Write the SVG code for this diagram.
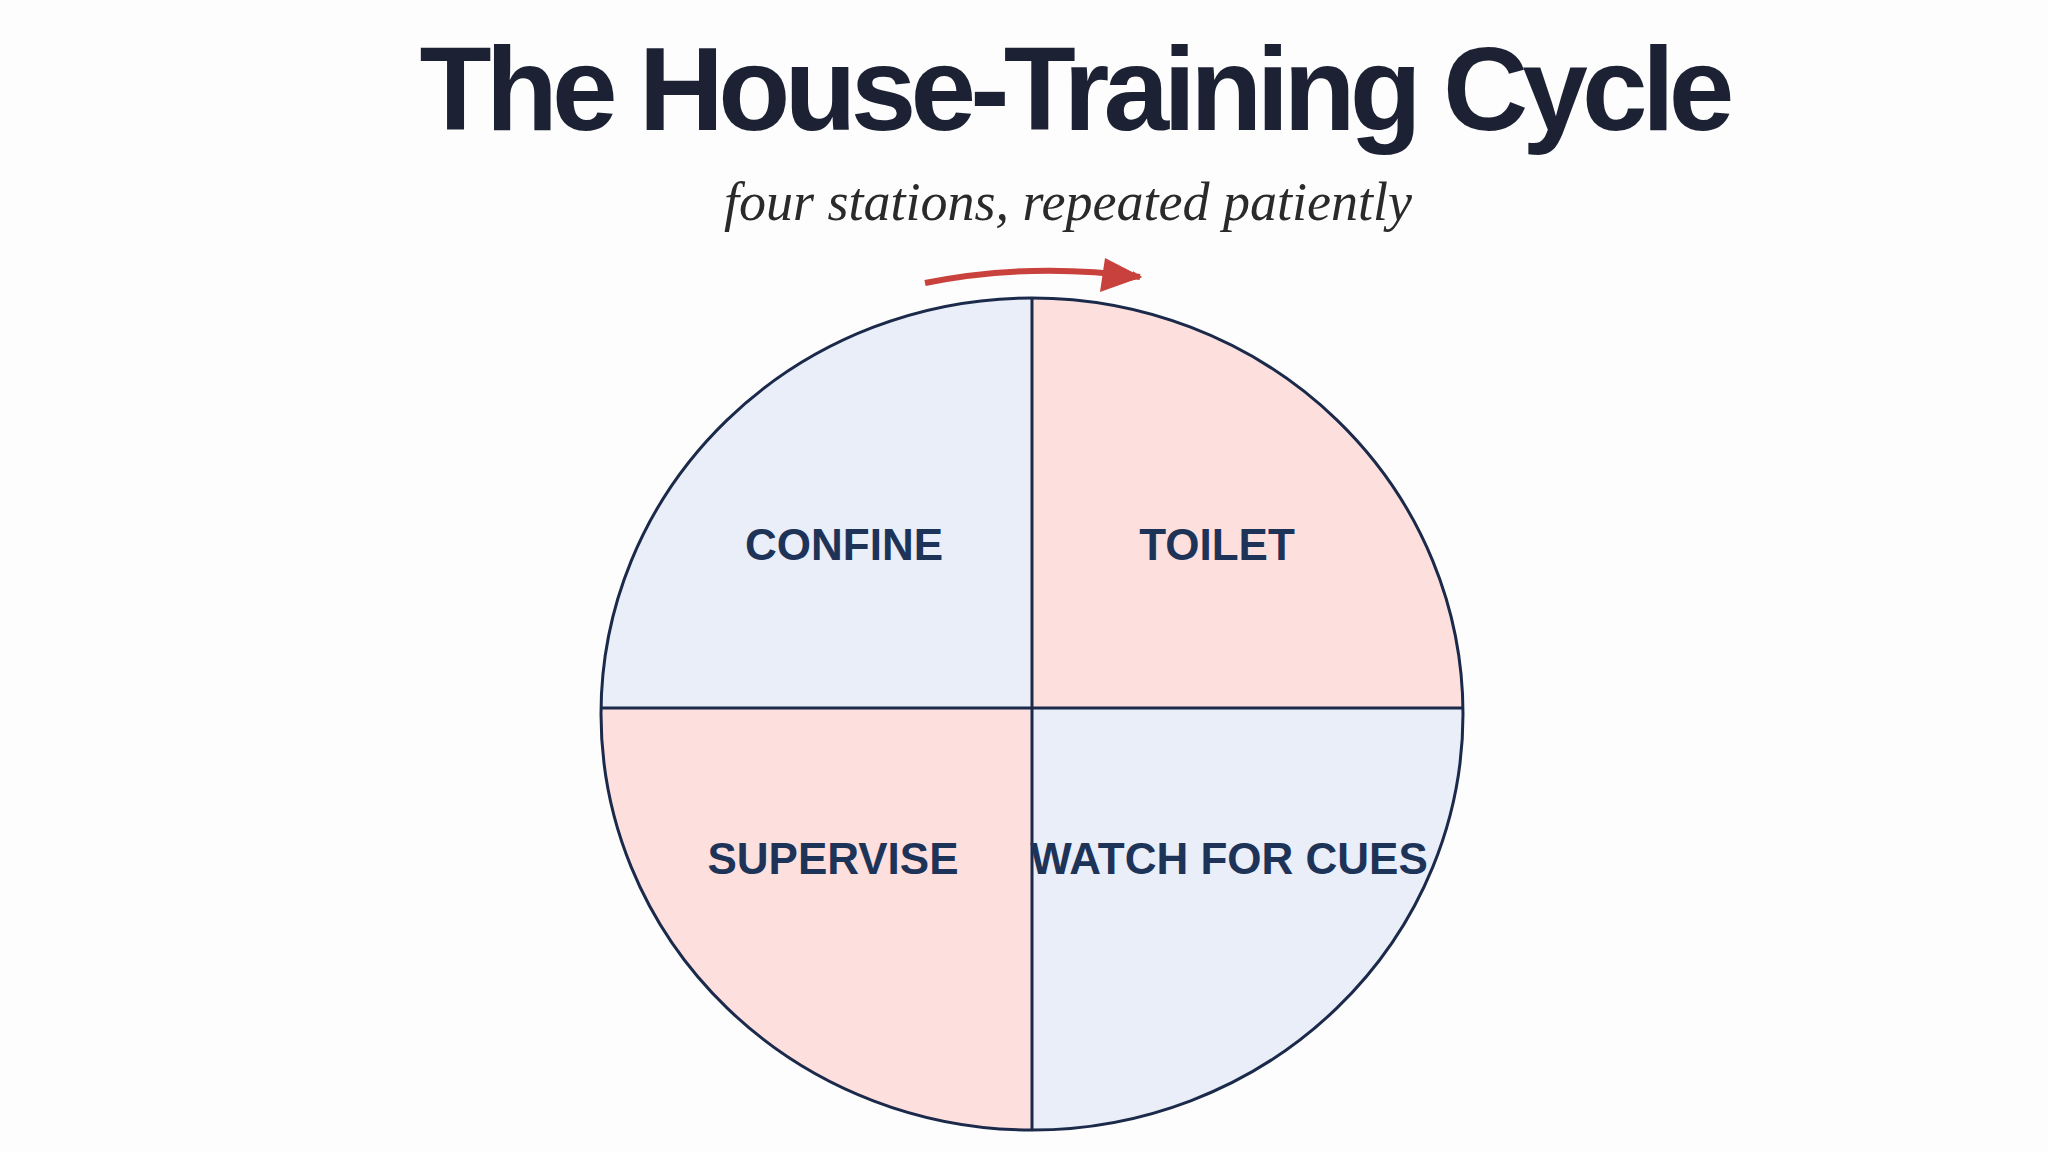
<svg xmlns="http://www.w3.org/2000/svg" width="2048" height="1152" viewBox="0 0 2048 1152">
<style>
.t{font-family:"Liberation Sans",Arial,sans-serif;font-weight:bold;font-size:44px;fill:#1e3358;text-anchor:middle}
.ln{stroke:#1b2a4a;stroke-width:3;fill:none}
</style>
<defs>
<clipPath id="c"><ellipse cx="1032" cy="714" rx="431" ry="416"/></clipPath>
<marker id="ah" markerWidth="10" markerHeight="10" refX="8" refY="5" orient="auto" markerUnits="userSpaceOnUse" viewBox="0 0 10 10"><path d="M0,0 L10,5 L0,10z" fill="#c9413c"/></marker>
</defs>
<rect width="2048" height="1152" fill="#fdfdfd"/>
<text x="1077" y="130" font-family="Liberation Sans,Arial,sans-serif" font-weight="bold" font-size="118" fill="#1c2233" text-anchor="middle" textLength="1315">The House-Training Cycle</text>
<text x="1068" y="220" font-family="Liberation Serif,serif" font-style="italic" font-size="54" fill="#2a2a2a" text-anchor="middle">four stations, repeated patiently</text>
<g id="quadrants" clip-path="url(#c)">
<g id="confine"><rect x="600" y="290" width="432" height="418" fill="#e9eef9"/></g>
<g id="toilet"><rect x="1032" y="290" width="432" height="418" fill="#fde0de"/></g>
<g id="supervise"><rect x="600" y="708" width="432" height="430" fill="#fde0de"/></g>
<g id="watch"><rect x="1032" y="708" width="432" height="430" fill="#e9eef9"/></g>
</g>
<ellipse class="ln" cx="1032" cy="714" rx="431" ry="416"/>
<line class="ln" x1="1032" y1="298" x2="1032" y2="1130"/>
<line class="ln" x1="601" y1="708" x2="1463" y2="708"/>
<text class="t" x="844" y="560">CONFINE</text>
<text class="t" x="1217" y="560">TOILET</text>
<text class="t" x="833" y="874">SUPERVISE</text>
<text class="t" x="1229" y="874">WATCH FOR CUES</text>
<g id="connectors">
<path d="M925,283 Q1030,262 1140,277" stroke="#c9413c" stroke-width="6" fill="none" marker-end="url(#ah)"/>
<path d="M1105,258 L1142,277 L1100,292 z" fill="#c9413c"/>
</g>
</svg>
